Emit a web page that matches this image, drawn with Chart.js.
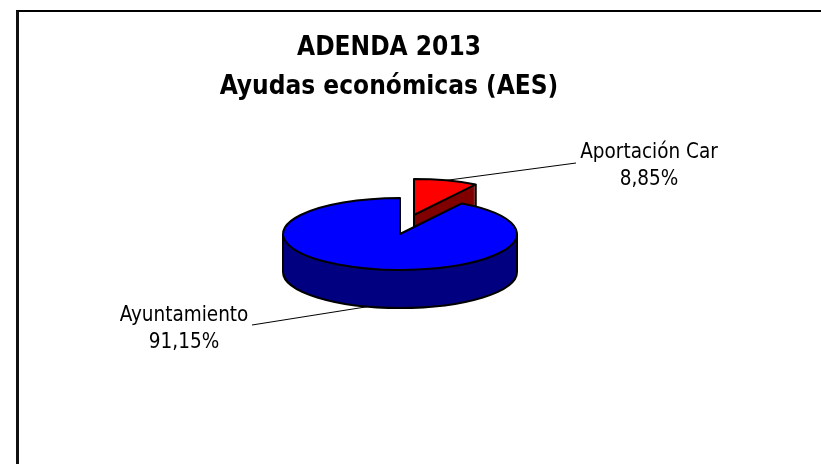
<!DOCTYPE html>
<html><head><meta charset="utf-8">
<script src="https://cdn.jsdelivr.net/npm/chart.js@4"></script>
<style>
html,body{margin:0;padding:0;background:#fff;overflow:hidden}
#wrap{position:absolute;left:0;top:0;width:821px;height:464px}
#frame{position:absolute;left:16px;top:10px;right:0;bottom:0;border-left:3px solid #111;border-top:2px solid #000}
canvas{position:absolute;left:0;top:0}
</style></head><body>
<div id="wrap"><div id="frame"></div><canvas id="c" width="821" height="464"></canvas></div>
<script>
const categories = ["Aportación Car", "Ayuntamiento"];
const shares = [8.85, 91.15];
const topColors = ["#FF0000", "#0000FF"];
const wallColors = ["#800000", "#000080"];
const titleLines = ["ADENDA 2013", "Ayudas económicas (AES)"];

const SQUASH = 36 / 117, DEPTH = 38;
const EXPLODE = {x: 14, y: -19};   // on-screen shift of the separated slice
const LABEL_FONT = '20.5px "DejaVu Sans Condensed"';
const LABEL_POS = [{x:649,y:158,lx:576,ly:163},{x:184,y:321,lx:252,ly:325}];
const fmt = v => v.toFixed(2).replace('.', ',') + '%';

function geom(chart, arc){
  const cy = (chart.chartArea.top + chart.chartArea.bottom) / 2;
  return {
    x: arc.x,
    y: cy + (arc.y - cy) * SQUASH,
    r: arc.outerRadius, ry: arc.outerRadius * SQUASH,
    s: arc.startAngle, e: arc.endAngle, h: (arc.startAngle + arc.endAngle) / 2
  };
}
function slicePath(ctx, g, d){
  ctx.beginPath();
  ctx.moveTo(g.x, g.y + d);
  ctx.ellipse(g.x, g.y + d, g.r, g.ry, 0, g.s, g.e);
  ctx.closePath();
}
const pie3d = {
  id: 'pie3d',
  afterDatasetsUpdate(chart){
    const red = chart.getDatasetMeta(0).data[0];
    red.x += EXPLODE.x;
    red.y += EXPLODE.y / SQUASH;
  },
  afterLayout(chart){
    chart.titleBlock.left -= 11; chart.titleBlock.right -= 11;
  },
  beforeDatasetsDraw(chart){
    const ctx = chart.ctx, arcs = chart.getDatasetMeta(0).data;
    arcs.forEach((arc, i) => {
      const g = geom(chart, arc);
      ctx.save();
      ctx.fillStyle = wallColors[i];
      for (let d = DEPTH; d >= 0; d--) { slicePath(ctx, g, d); ctx.fill(); }
      ctx.strokeStyle = '#000'; ctx.lineWidth = 2; ctx.lineJoin = 'round';
      ctx.beginPath();
      if (i === 0) {
        ctx.moveTo(g.x, g.y); ctx.lineTo(g.x, g.y + DEPTH);
        const tx = g.x + Math.cos(g.e) * g.r, ty = g.y + Math.sin(g.e) * g.ry;
        ctx.moveTo(tx, ty); ctx.lineTo(tx, ty + DEPTH);
      } else {
        ctx.moveTo(g.x + g.r, g.y);
        ctx.lineTo(g.x + g.r, g.y + DEPTH);
        ctx.ellipse(g.x, g.y + DEPTH, g.r, g.ry, 0, 0, Math.PI);
        ctx.lineTo(g.x - g.r, g.y);
      }
      ctx.stroke();
      ctx.restore();
    });
    const cx = (chart.chartArea.left + chart.chartArea.right) / 2;
    const cy = (chart.chartArea.top + chart.chartArea.bottom) / 2;
    ctx.save();
    ctx.translate(cx, cy); ctx.scale(1, SQUASH); ctx.translate(-cx, -cy);
  },
  afterDatasetsDraw(chart){
    const ctx = chart.ctx;
    ctx.restore();
    chart.getDatasetMeta(0).data.forEach((arc, i) => {
      const g = geom(chart, arc);
      ctx.save();
      ctx.strokeStyle = '#000'; ctx.lineWidth = 2; ctx.lineJoin = 'round';
      slicePath(ctx, g, 0); ctx.stroke();
      const ax = g.x + Math.cos(g.h) * g.r;
      const ay = g.y + Math.sin(g.h) * g.ry + (Math.sin(g.h) > 0 ? DEPTH : 0);
      const p = LABEL_POS[i];
      ctx.lineWidth = 1;
      ctx.beginPath(); ctx.moveTo(ax, ay); ctx.lineTo(p.lx, p.ly); ctx.stroke();
      ctx.fillStyle = '#000'; ctx.font = LABEL_FONT;
      ctx.textAlign = 'center'; ctx.textBaseline = 'alphabetic';
      ctx.fillText(categories[i], p.x, p.y);
      ctx.fillText(fmt(shares[i]), p.x, p.y + 27);
      ctx.restore();
    });
  }
};
new Chart(document.getElementById('c'), {
  type: 'pie',
  data: { labels: categories, datasets: [{
    data: shares, backgroundColor: topColors, borderWidth: 0, radius: 117
  }]},
  options: {
    responsive: false, animation: false,
    layout: { padding: { right: 21, bottom: 111 } },
    plugins: {
      legend: { display: false }, tooltip: { enabled: false },
      title: { display: true, text: titleLines, color: '#000',
        font: { family: '"DejaVu Sans Condensed"', size: 26, weight: 'bold', lineHeight: 1.5 },
        padding: { top: 29, bottom: 8 } }
    }
  },
  plugins: [pie3d]
});
</script></body></html>
